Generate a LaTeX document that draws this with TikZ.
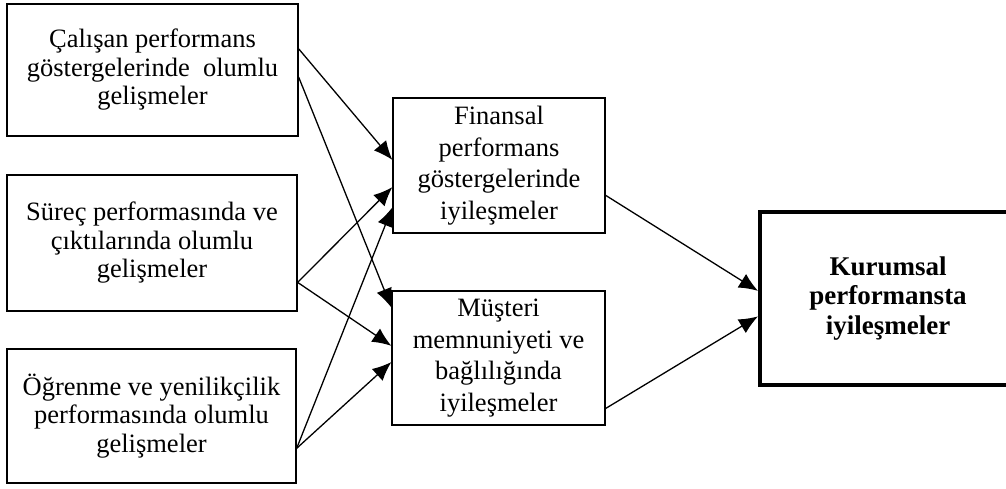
\documentclass[tikz,border=0pt]{standalone}
\usepackage{fontspec}
\setmainfont{Liberation Serif}
\usetikzlibrary{arrows.meta,calc}
\begin{document}
\begin{tikzpicture}[x=1pt,y=-1pt,
  box/.style={draw,line width=1.3pt,align=center,inner sep=0pt,
    font=\fontsize{26.5}{28.5}\selectfont},
  midbox/.style={box,font=\fontsize{26.5}{31.5}\selectfont},
  goalbox/.style={draw,line width=4pt,align=center,inner sep=0pt,
    font=\bfseries\fontsize{27}{29.5}\selectfont},
  link/.style={line width=1.3pt,-{Latex[length=19pt,width=16pt]}}]
\useasboundingbox[fill=white] (0,0) rectangle (1006,489);

% left column: sources of improvement
\node[box,minimum width=291,minimum height=132] (emp) at (152.5,70)
  {Çalışan performans\\göstergelerinde\ \ olumlu\\gelişmeler};
\node[box,minimum width=290,minimum height=136] (proc) at (152,243)
  {Süreç performasında ve\\çıktılarında olumlu\\gelişmeler};
\node[box,minimum width=289,minimum height=134] (learn) at (151.5,416)
  {Öğrenme ve yenilikçilik\\performasında olumlu\\gelişmeler};

% middle column
\node[midbox,minimum width=212,minimum height=135] (fin) at (499,165.5)
  {Finansal\\performans\\göstergelerinde\\iyileşmeler};
\node[midbox,minimum width=213,minimum height=134] (cust) at (498.5,358)
  {Müşteri\\memnuniyeti ve\\bağlılığında\\iyileşmeler};

% overall result; its right side runs past the page edge
\node[goalbox,minimum width=256,minimum height=173] (corp) at (888,298.5)
  {Kurumsal\\performansta\\iyileşmeler};

% connectors from the left column
\draw[link] ($(emp.north east)!0.341!(emp.south east)$) -- ($(fin.north west)!0.459!(fin.south west)$);
\draw[link] ($(emp.north east)!0.553!(emp.south east)$) -- ($(cust.north west)!0.127!(cust.south west)$);
\draw[link] ($(proc.north east)!0.787!(proc.south east)$) -- ($(fin.north west)!0.659!(fin.south west)$);
\draw[link] ($(proc.north east)!0.787!(proc.south east)$) -- ($(cust.north west)!0.41!(cust.south west)$);
\draw[link] ($(learn.north east)!0.739!(learn.south east)$) -- ($(fin.north west)!0.807!(fin.south west)$);
\draw[link] ($(learn.north east)!0.739!(learn.south east)$) -- ($(cust.north west)!0.53!(cust.south west)$);

% connectors into the result
\draw[link] ($(fin.north east)!0.719!(fin.south east)$) -- ($(corp.north west)!0.457!(corp.south west)$);
\draw[link] ($(cust.north east)!0.873!(cust.south east)$) -- ($(corp.north west)!0.601!(corp.south west)$);
\end{tikzpicture}
\end{document}
